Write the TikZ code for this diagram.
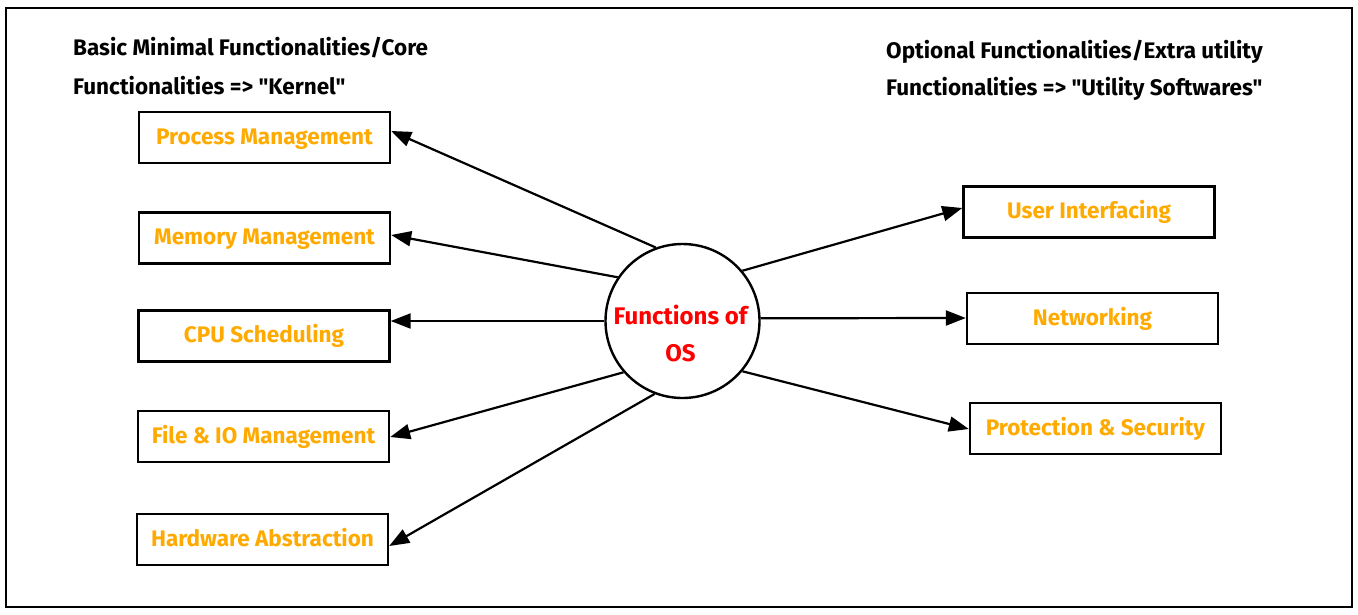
\documentclass[tikz,border=0pt]{standalone}
\usepackage{fontspec}
\setmainfont{Fira Sans}[Ligatures=TeXOff]
\usetikzlibrary{arrows.meta}
\definecolor{orng}{RGB}{255,170,0}
\definecolor{redt}{RGB}{255,0,0}
\begin{document}
\begin{tikzpicture}[x=1pt,y=-1pt,
  fbox/.style={draw,line width=2.4pt,minimum width=251pt,minimum height=51pt,inner sep=0pt,
    text height=13pt,text depth=0pt,
    font=\fontsize{22.5}{26}\selectfont\bfseries,text=orng},
  ttl/.style={anchor=west,font=\fontsize{22.5}{26}\selectfont\bfseries,inner sep=0pt},
  arr/.style={line width=2.2pt,-{Triangle[length=20pt,width=15pt]}}]
\useasboundingbox (0,0) rectangle (1358,614);
\draw[line width=2pt] (6,8) rectangle (1352,607);
\node[ttl] (t1) at (73,48) {Basic Minimal Functionalities/Core};
\node[ttl] (t2) at (73,86) {Functionalities => "Kernel"};
\node[ttl] (t3) at (886,52) {Optional Functionalities/Extra utility};
\node[ttl] (t4) at (886,89) {Functionalities => "Utility Softwares"};
\node[fbox] (pm) at (264.5,137.5) {Process Management};
\node[fbox] (mm) at (264.5,238) {Memory Management};
\node[fbox] (cpu) at (264,336) {CPU Scheduling};
\node[fbox] (fio) at (263.5,436.5) {File \& IO Management};
\node[fbox] (hw) at (262.5,539.5) {Hardware Abstraction};
\node[fbox] (ui) at (1089,212) {User Interfacing};
\node[fbox] (net) at (1092.5,318.5) {Networking};
\node[fbox] (ps) at (1095.5,428.5) {Protection \& Security};
\node[draw,circle,line width=2.4pt,minimum size=154pt,inner sep=0pt] (os) at (682.5,321) {};
\node[align=center,text=redt,font=\fontsize{24}{37}\selectfont\bfseries,inner sep=0pt]
  (ost) at (680.5,333) {Functions of\\OS};
\draw[arr] (os.110.6) -- (pm.east |- 0,131);
\draw[arr] (os.146) -- (mm.east |- 0,235);
\draw[arr] (os.180) -- (cpu.east |- 0,321);
\draw[arr] (os.221.7) -- (fio.east |- 0,437);
\draw[arr] (os.249.4) -- (hw.east |- 0,546);
\draw[arr] (os.40.6) -- (ui.west |- 0,208);
\draw[arr] (os.2) -- (net.west |- 0,318);
\draw[arr] (os.320) -- (ps.west |- 0,429);
\end{tikzpicture}
\end{document}
